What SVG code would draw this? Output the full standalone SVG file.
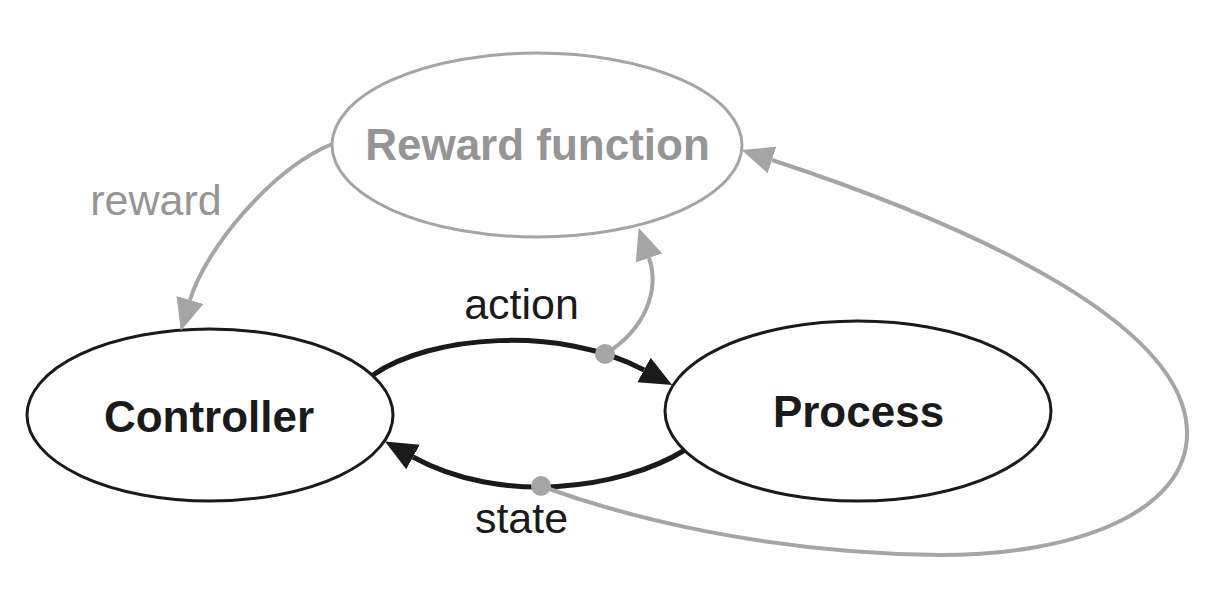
<svg xmlns="http://www.w3.org/2000/svg" width="1212" height="600" viewBox="0 0 1212 600">
<defs>
<style>
.node{fill:#fff;stroke-width:3}
.blk{stroke:#1a1a1a}
.gry{stroke:#a5a5a5}
.lbl{font-family:"Liberation Sans",Arial,sans-serif;font-weight:bold;font-size:44px;text-anchor:middle}
.elbl{font-family:"Liberation Sans",Arial,sans-serif;font-size:43px;text-anchor:middle}
.eb{fill:none;stroke:#1a1a1a;stroke-width:5}
.eg{fill:none;stroke:#a5a5a5;stroke-width:4}
.dot{fill:#a5a5a5}
</style>
<marker id="ab" markerUnits="userSpaceOnUse" markerWidth="34" markerHeight="30" refX="0" refY="15" orient="auto" viewBox="0 0 34 30">
<path d="M0,1 L32,15 L0,29 z" fill="#1a1a1a"/>
</marker>
<marker id="ag" markerUnits="userSpaceOnUse" markerWidth="34" markerHeight="30" refX="0" refY="15" orient="auto" viewBox="0 0 34 30">
<path d="M0,1 L32,15 L0,29 z" fill="#a5a5a5"/>
</marker>
</defs>
<rect width="1212" height="600" fill="#fff"/>
<g id="reward-function">
<ellipse class="node gry" cx="537" cy="145" rx="205" ry="92"/>
<text class="lbl" x="537.5" y="160" fill="#959595">Reward function</text>
</g>
<g id="controller">
<ellipse class="node blk" cx="210" cy="415" rx="183" ry="86"/>
<text class="lbl" x="209" y="432" fill="#1a1a1a">Controller</text>
</g>
<g id="process">
<ellipse class="node blk" cx="858" cy="411" rx="193" ry="90"/>
<text class="lbl" x="858.5" y="427" fill="#1a1a1a">Process</text>
</g>
<g id="connectors">
<path class="eg" d="M332,144 C270,170 205,250 190,300" marker-end="url(#ag)"/>
<text class="elbl" x="156" y="215" fill="#959595">reward</text>
<path class="eb" d="M373,375 C430,335 560,325 644,370" marker-end="url(#ab)"/>
<text class="elbl" x="521.5" y="319" fill="#1a1a1a">action</text>
<path class="eb" d="M685,450 C620,490 500,505 413,457" marker-end="url(#ab)"/>
<text class="elbl" x="521.5" y="533" fill="#1a1a1a">state</text>
<path class="eg" d="M605,354 C645,330 660,290 649,258" marker-end="url(#ag)"/>
<path class="eg" d="M541,486 C620,515 760,553 940,555 C1080,555 1190,510 1187,430 C1183,330 1000,235 772,160" marker-end="url(#ag)"/>
<circle class="dot" cx="605" cy="354" r="10"/>
<circle class="dot" cx="541" cy="486" r="10"/>
</g>
</svg>
